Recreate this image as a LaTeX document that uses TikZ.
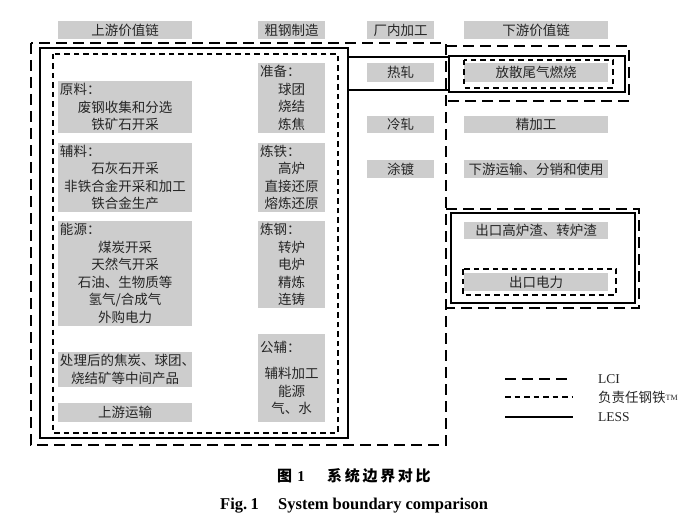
\documentclass[tikz,border=0pt]{standalone}
\usepackage{fontspec}
\setmainfont{Liberation Serif}
\newfontfamily\cjk{Noto Sans CJK SC}
\newfontfamily\capcjk[LetterSpace=18]{Noto Sans CJK SC}
\definecolor{boxgray}{RGB}{205,205,205}
\newcommand\hdL[1]{\makebox[130bp][l]{#1}}
\newcommand\hdR[1]{\makebox[63bp][l]{#1}}
\tikzset{
  gb/.style={fill=boxgray, inner sep=0pt, text=black!85,
    font=\cjk\fontsize{13.5bp}{17.5bp}\selectfont, align=center},
  gbL/.style={gb, text width=130bp, minimum width=134bp},
  gbR/.style={gb, text width=63bp, minimum width=67bp},
  gbD/.style={gb, text width=140bp, minimum width=144bp},
  lci/.style={line width=2.2bp, dash pattern=on 11bp off 6bp},
  rsp/.style={line width=1.8bp, dash pattern=on 5.5bp off 4bp},
  less/.style={line width=1.5bp},
  legtext/.style={anchor=west, inner sep=0pt, font=\fontsize{13.5bp}{16bp}\selectfont, text=black!85}
}
\begin{document}
\begin{tikzpicture}[x=1bp,y=-1bp]
\useasboundingbox[fill=white] (0,0) rectangle (697,525);

% header row
\node[gbL, minimum height=18bp] (hUp) at (125,30) {上游价值链};
\node[gbR, minimum height=18bp] (hCrude) at (291.5,30) {粗钢制造};
\node[gbR, minimum height=18bp] (hPlant) at (400.5,30) {厂内加工};
\node[gbD, minimum height=18bp] (hDown) at (536,30) {下游价值链};

% upstream column
\node[gbL, minimum height=52bp] (raw) at (125,107) {\hdL{原料：}\\废钢收集和分选\\铁矿石开采};
\node[gbL, minimum height=69bp] (aux) at (125,177.5) {\hdL{辅料：}\\石灰石开采\\非铁合金开采和加工\\铁合金生产};
\node[gbL, minimum height=105bp] (energy) at (125,273.5) {\hdL{能源：}\\煤炭开采\\天然气开采\\石油、生物质等\\氢气/合成气\\外购电力};
\node[gbL, minimum height=35bp] (inter) at (125,369.5) {处理后的焦炭、球团、\\烧结矿等中间产品};
\node[gbL, minimum height=19bp] (uptrans) at (125,412.5) {上游运输};

% crude steel column
\node[gbR, minimum height=70bp] (prep) at (291.5,98) {\hdR{准备：}\\球团\\烧结\\炼焦};
\node[gbR, minimum height=69bp] (iron) at (291.5,177.5) {\hdR{炼铁：}\\高炉\\直接还原\\熔炼还原};
\node[gbR, minimum height=87bp] (steel) at (291.5,264.5) {\hdR{炼钢：}\\转炉\\电炉\\精炼\\连铸};
\node[gbR, minimum height=88bp] (util) at (291.5,378) {\hdR{公辅：}\\[9bp]辅料加工\\能源\\气、水};

% plant processing column
\node[gbR, minimum height=19bp] (hot) at (400.5,72.5) {热轧};
\node[gbR, minimum height=17bp] (cold) at (400.5,124.5) {冷轧};
\node[gbR, minimum height=18bp] (coat) at (400.5,169) {涂镀};

% downstream column
\node[gbD, minimum height=19bp] (flare) at (536,72.5) {放散尾气燃烧};
\node[gbD, minimum height=17bp] (finish) at (536,124.5) {精加工};
\node[gbD, minimum height=18bp] (dtrans) at (536,169) {下游运输、分销和使用};
\node[gbD, minimum height=17bp] (slag) at (536,230.5) {出口高炉渣、转炉渣};
\node[gbD, minimum height=18bp] (elec) at (536,282) {出口电力};

% LCI boundaries
\draw[lci] (31,43) rectangle (446,445);
\draw[lci] (446,46) -- (629,46) -- (629,101) -- (446,101);
\draw[lci] (446,209) -- (639,209) -- (639,308) -- (446,308);
% LESS boundaries
\draw[less] (40,48) rectangle (348,438);
\draw[less] (348,57) rectangle (449,90);
\draw[less] (449,56) rectangle (625,92);
\draw[less] (451,213) rectangle (635,303);
% ResponsibleSteel boundaries
\draw[rsp] (53,54) rectangle (338,433);
\draw[rsp] (464,60) rectangle (613,88);
\draw[rsp] (463,269) rectangle (616,295);

% legend
\coordinate (la1) at (505,379); \coordinate (la2) at (573,379);
\coordinate (lb1) at (505,397); \coordinate (lb2) at (573,397);
\coordinate (lc1) at (505,417); \coordinate (lc2) at (573,417);
\draw[lci] (la1) -- (la2);
\draw[rsp] (lb1) -- (lb2);
\draw[less] (lc1) -- (lc2);
\node[legtext] (ta) at (598,379) {LCI};
\node[legtext] (tb) at (598,397) {{\cjk 负责任钢铁}\raisebox{2bp}{\fontsize{8bp}{9bp}\selectfont TM}};
\node[legtext] (tc) at (598,417) {LESS};

% caption
\node[anchor=west, inner sep=0pt, font=\bfseries\fontsize{15bp}{18bp}\selectfont] (cap1a) at (277,476) {{\cjk 图}\hspace{0.35em}1};
\node[anchor=west, inner sep=0pt, font=\capcjk\bfseries\fontsize{15bp}{18bp}\selectfont] (cap1b) at (327,476) {系统边界对比};
\node[anchor=west, inner sep=0pt, font=\bfseries\fontsize{16.5bp}{18bp}\selectfont] (cap2a) at (220,506) {Fig.\hspace{0.2em}1};
\node[anchor=west, inner sep=0pt, font=\bfseries\fontsize{16.5bp}{18bp}\selectfont] (cap2b) at (278,506) {System boundary comparison};
\end{tikzpicture}
\end{document}
